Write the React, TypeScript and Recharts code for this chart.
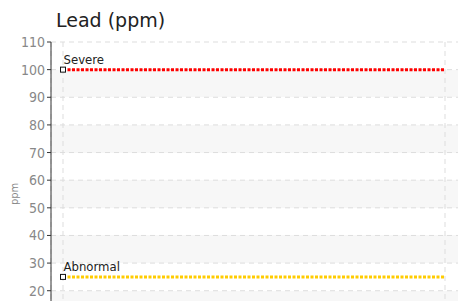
import React from 'react';
import { LineChart, Line, XAxis, YAxis, CartesianGrid } from 'recharts';

const positions = [0, 1];
const severeValues = [100, 100];
const abnormalValues = [25, 25];
const yTicks = [0, 10, 20, 30, 40, 50, 60, 70, 80, 90, 100, 110];

const data = positions.map((p, i) => ({ x: p, severe: severeValues[i], abnormal: abnormalValues[i] }));

const narrow = "'Liberation Sans Narrow', 'DejaVu Sans Condensed', 'Roboto', sans-serif";

// square marker + caption on the first point only
const makeDot = (caption: string) => (props: any) => {
    const { cx, cy, index } = props;
    if (index !== 0) return <g key={`d-${caption}-${index}`} />;
    return (
        <g key={`d-${caption}-${index}`}>
            <rect x={cx - 2.5} y={cy - 2.5} width={5} height={5} fill="#fff" stroke="#111" strokeWidth={1} />
            <text x={cx + 0.5} y={cy - 5.5} fontSize={13} fontFamily={narrow} fill="#222">{caption}</text>
        </g>
    );
};

const App: React.FC = () => {
    return (
        <div style={{ position: 'relative', width: 458, height: 293, overflow: 'hidden' }}>
            <div style={{ position: 'absolute', left: 48, top: 1, fontFamily: "'DejaVu Sans', sans-serif", fontSize: 19, lineHeight: '22px', color: '#222', zIndex: 2 }}>
                Lead (ppm)
            </div>
            <LineChart width={458} height={380} data={data} margin={{ top: 34, right: 0, bottom: 42, left: 0 }}>
                <CartesianGrid stroke="#ddd" strokeDasharray="5 4" horizontalFill={['#fff', '#f7f7f7']} />
                <XAxis dataKey="x" type="number" domain={[0, 1]} ticks={positions} hide padding={{ left: 12, right: 21 }} />
                <YAxis
                    width={43}
                    domain={[0, 110]}
                    ticks={yTicks}
                    interval={0}
                    tickSize={4}
                    stroke="#333"
                    tick={{ fill: '#888', fontSize: 14, fontFamily: narrow }}
                    label={{ value: 'ppm', angle: -90, position: 'insideLeft', offset: 6, style: { textAnchor: 'middle', fill: '#888', fontSize: 11, fontFamily: narrow } }}
                />
                <Line dataKey="severe" stroke="#ff0000" strokeWidth={3} strokeDasharray="3 1.5" dot={makeDot('Severe')} isAnimationActive={false} />
                <Line dataKey="abnormal" stroke="#ffcc00" strokeWidth={3} strokeDasharray="3 1.5" dot={makeDot('Abnormal')} isAnimationActive={false} />
            </LineChart>
        </div>
    );
};

export default App;
